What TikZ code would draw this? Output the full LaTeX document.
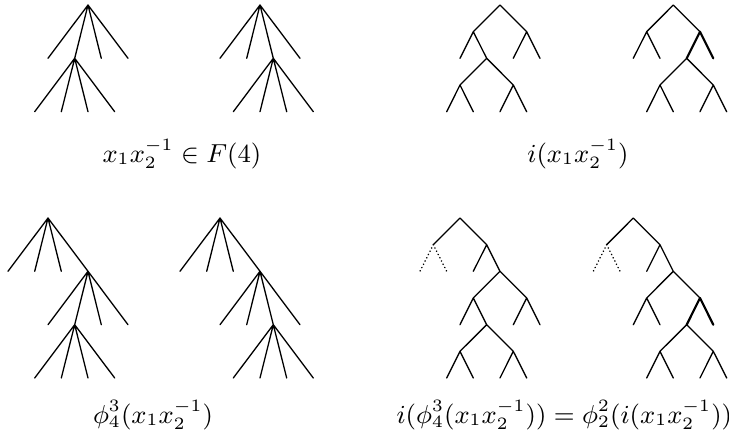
\documentclass[tikz,border=0pt]{standalone}
\begin{document}
\begin{tikzpicture}[x=0.3457pt,y=-0.3457pt,
  edge/.style={line width=0.45pt,line cap=round},
  hiedge/.style={line width=0.75pt,line cap=round},
  dotedge/.style={line width=0.6pt,dash pattern=on 0.01pt off 1.25pt,line cap=round},
  lbl/.style={inner sep=0pt,font=\fontsize{9}{11}\selectfont}]
\useasboundingbox (0,0) rectangle (729,441);
% ---------- Tree A (top left) ----------
\coordinate (A) at (88,5);
\coordinate (A1) at (48,58.3); \coordinate (A2) at (74.7,58.3);
\coordinate (A3) at (101.3,58.3); \coordinate (A4) at (128,58.3);
\coordinate (A21) at (34.7,111.7); \coordinate (A22) at (61.3,111.7);
\coordinate (A23) at (88,111.7); \coordinate (A24) at (114.7,111.7);
\draw[edge] (A) -- (A1) (A) -- (A2) (A) -- (A3) (A) -- (A4)
  (A2) -- (A21) (A2) -- (A22) (A2) -- (A23) (A2) -- (A24);
% ---------- Tree B ----------
\coordinate (B) at (260,5);
\coordinate (B1) at (220,58.3); \coordinate (B2) at (246.7,58.3);
\coordinate (B3) at (273.3,58.3); \coordinate (B4) at (300,58.3);
\coordinate (B31) at (233.3,111.7); \coordinate (B32) at (260,111.7);
\coordinate (B33) at (286.7,111.7); \coordinate (B34) at (313.3,111.7);
\draw[edge] (B) -- (B1) (B) -- (B2) (B) -- (B3) (B) -- (B4)
  (B3) -- (B31) (B3) -- (B32) (B3) -- (B33) (B3) -- (B34);
% ---------- Tree C (top right, binary) ----------
\coordinate (C) at (500,5);
\coordinate (C0) at (473.3,31.7); \coordinate (C1) at (526.7,31.7);
\coordinate (C00) at (460,58.3); \coordinate (C01) at (486.7,58.3);
\coordinate (C10) at (513.3,58.3); \coordinate (C11) at (540,58.3);
\coordinate (C010) at (460,85); \coordinate (C011) at (513.3,85);
\coordinate (C0100) at (446.7,111.7); \coordinate (C0101) at (473.3,111.7);
\coordinate (C0110) at (500,111.7); \coordinate (C0111) at (526.7,111.7);
\draw[edge] (C) -- (C0) (C) -- (C1) (C0) -- (C00) (C0) -- (C01)
  (C1) -- (C10) (C1) -- (C11) (C01) -- (C010) (C01) -- (C011)
  (C010) -- (C0100) (C010) -- (C0101) (C011) -- (C0110) (C011) -- (C0111);
% ---------- Tree D ----------
\coordinate (D) at (673.3,5);
\coordinate (D0) at (646.7,31.7); \coordinate (D1) at (700,31.7);
\coordinate (D00) at (633.3,58.3); \coordinate (D01) at (660,58.3);
\coordinate (D10) at (686.7,58.3); \coordinate (D11) at (713.3,58.3);
\coordinate (D100) at (660,85); \coordinate (D101) at (713.3,85);
\coordinate (D1000) at (646.7,111.7); \coordinate (D1001) at (673.3,111.7);
\coordinate (D1010) at (700,111.7); \coordinate (D1011) at (726.7,111.7);
\draw[edge] (D) -- (D0) (D) -- (D1) (D0) -- (D00) (D0) -- (D01)
  (D10) -- (D100) (D10) -- (D101)
  (D100) -- (D1000) (D100) -- (D1001) (D101) -- (D1010) (D101) -- (D1011);
\draw[hiedge] (D1) -- (D10) (D1) -- (D11);
% ---------- Tree E (bottom left) ----------
\coordinate (E) at (48,218);
\coordinate (E1) at (8,271.3); \coordinate (E2) at (34.7,271.3);
\coordinate (E3) at (61.3,271.3); \coordinate (E4) at (88,271.3);
\coordinate (E41) at (48,324.7); \coordinate (E42) at (74.7,324.7);
\coordinate (E43) at (101.3,324.7); \coordinate (E44) at (128,324.7);
\coordinate (E421) at (34.7,378); \coordinate (E422) at (61.3,378);
\coordinate (E423) at (88,378); \coordinate (E424) at (114.7,378);
\draw[edge] (E) -- (E1) (E) -- (E2) (E) -- (E3) (E) -- (E4)
  (E4) -- (E41) (E4) -- (E42) (E4) -- (E43) (E4) -- (E44)
  (E42) -- (E421) (E42) -- (E422) (E42) -- (E423) (E42) -- (E424);
% ---------- Tree F ----------
\coordinate (F) at (220,218);
\coordinate (F1) at (180,271.3); \coordinate (F2) at (206.7,271.3);
\coordinate (F3) at (233.3,271.3); \coordinate (F4) at (260,271.3);
\coordinate (F41) at (220,324.7); \coordinate (F42) at (246.7,324.7);
\coordinate (F43) at (273.3,324.7); \coordinate (F44) at (300,324.7);
\coordinate (F431) at (233.3,378); \coordinate (F432) at (260,378);
\coordinate (F433) at (286.7,378); \coordinate (F434) at (313.3,378);
\draw[edge] (F) -- (F1) (F) -- (F2) (F) -- (F3) (F) -- (F4)
  (F4) -- (F41) (F4) -- (F42) (F4) -- (F43) (F4) -- (F44)
  (F43) -- (F431) (F43) -- (F432) (F43) -- (F433) (F43) -- (F434);
% ---------- Tree G (bottom right, binary) ----------
\coordinate (G) at (460,218);
\coordinate (G0) at (433.3,244.7); \coordinate (G1) at (486.7,244.7);
\coordinate (G00) at (420,271.3); \coordinate (G01) at (446.7,271.3);
\coordinate (G10) at (473.3,271.3); \coordinate (G11) at (500,271.3);
\coordinate (G110) at (473.3,298); \coordinate (G111) at (526.7,298);
\coordinate (G1100) at (460,324.7); \coordinate (G1101) at (486.7,324.7);
\coordinate (G1110) at (513.3,324.7); \coordinate (G1111) at (540,324.7);
\coordinate (G11010) at (460,351.3); \coordinate (G11011) at (513.3,351.3);
\coordinate (G110100) at (446.7,378); \coordinate (G110101) at (473.3,378);
\coordinate (G110110) at (500,378); \coordinate (G110111) at (526.7,378);
\draw[edge] (G) -- (G0) (G) -- (G1) (G1) -- (G10) (G1) -- (G11)
  (G11) -- (G110) (G11) -- (G111)
  (G110) -- (G1100) (G110) -- (G1101) (G111) -- (G1110) (G111) -- (G1111)
  (G1101) -- (G11010) (G1101) -- (G11011)
  (G11010) -- (G110100) (G11010) -- (G110101)
  (G11011) -- (G110110) (G11011) -- (G110111);
\draw[dotedge] (G0) -- (G00) (G0) -- (G01);
% ---------- Tree H ----------
\coordinate (H) at (633.3,218);
\coordinate (H0) at (606.7,244.7); \coordinate (H1) at (660,244.7);
\coordinate (H00) at (593.3,271.3); \coordinate (H01) at (620,271.3);
\coordinate (H10) at (646.7,271.3); \coordinate (H11) at (673.3,271.3);
\coordinate (H110) at (646.7,298); \coordinate (H111) at (700,298);
\coordinate (H1100) at (633.3,324.7); \coordinate (H1101) at (660,324.7);
\coordinate (H1110) at (686.7,324.7); \coordinate (H1111) at (713.3,324.7);
\coordinate (H11100) at (660,351.3); \coordinate (H11101) at (713.3,351.3);
\coordinate (H111000) at (646.7,378); \coordinate (H111001) at (673.3,378);
\coordinate (H111010) at (700,378); \coordinate (H111011) at (726.7,378);
\draw[edge] (H) -- (H0) (H) -- (H1) (H1) -- (H10) (H1) -- (H11)
  (H11) -- (H110) (H11) -- (H111)
  (H110) -- (H1100) (H110) -- (H1101)
  (H1110) -- (H11100) (H1110) -- (H11101)
  (H11100) -- (H111000) (H11100) -- (H111001)
  (H11101) -- (H111010) (H11101) -- (H111011);
\draw[hiedge] (H111) -- (H1110) (H111) -- (H1111);
\draw[dotedge] (H0) -- (H00) (H0) -- (H01);
% ---------- Labels ----------
\node[lbl,anchor=base west] (l1) at (102,162) {$x_1x_2^{-1}\in F(4)$};
\node[lbl,anchor=base] (l2) at (578,162) {$i(x_1x_2^{-1})$};
\node[lbl,anchor=base] (l3) at (153,423) {$\phi_4^3(x_1x_2^{-1})$};
\node[lbl,anchor=base west] (l4) at (396,423) {$i(\phi_4^3(x_1x_2^{-1}))=\phi_2^2(i(x_1x_2^{-1}))$};
\end{tikzpicture}
\end{document}
